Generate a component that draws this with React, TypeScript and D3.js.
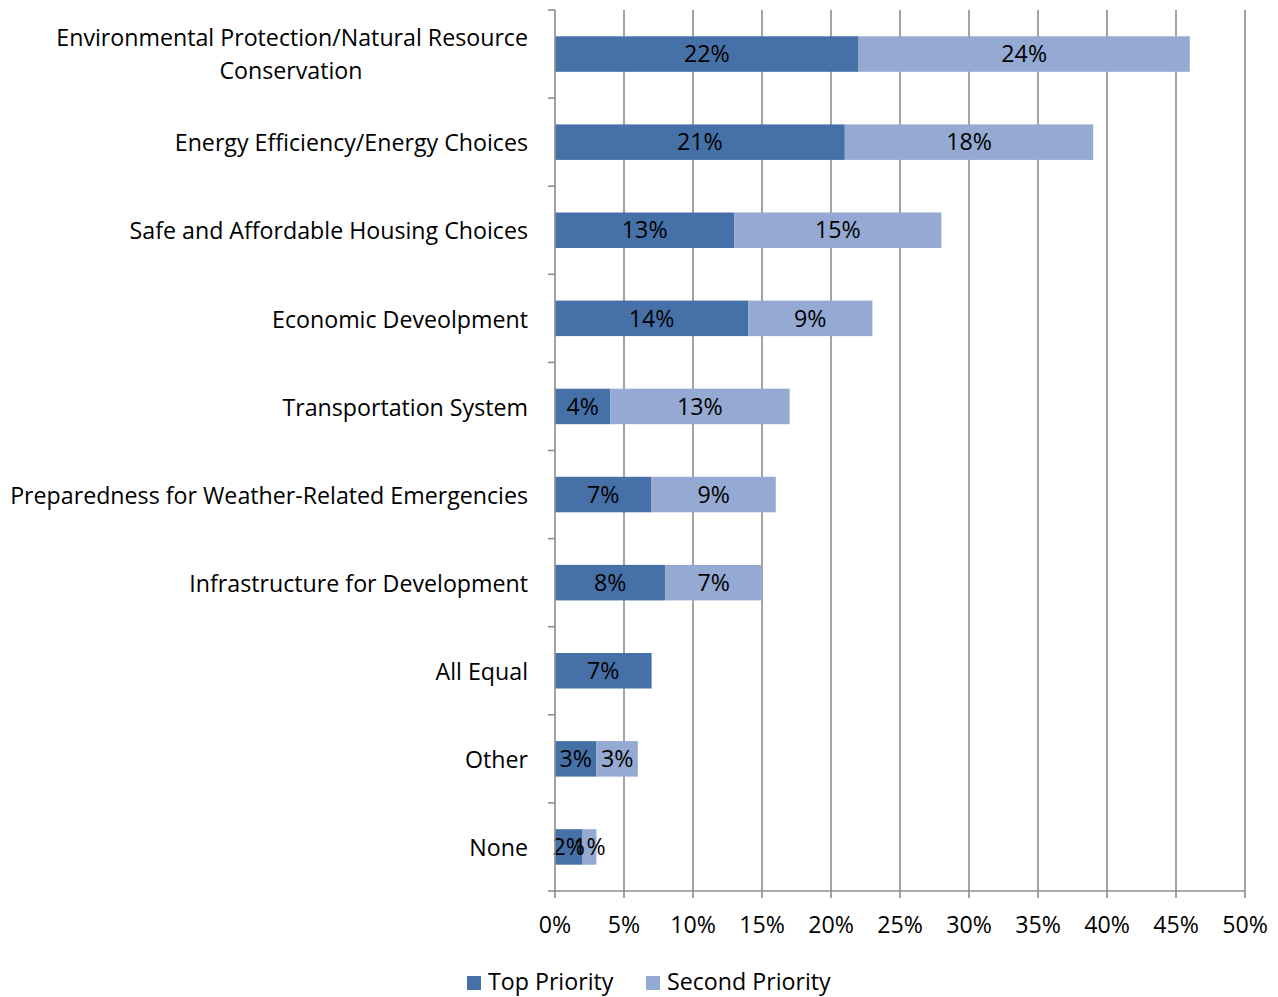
import React from "react";
import * as d3 from "d3";

const categories = [
  ["Environmental Protection/Natural Resource", "Conservation"],
  ["Energy Efficiency/Energy Choices"],
  ["Safe and Affordable Housing Choices"],
  ["Economic Deveolpment"],
  ["Transportation System"],
  ["Preparedness for Weather-Related Emergencies"],
  ["Infrastructure for Development"],
  ["All Equal"],
  ["Other"],
  ["None"],
];
const topPriority = [22, 21, 13, 14, 4, 7, 8, 7, 3, 2];
const secondPriority = [24, 18, 15, 9, 13, 9, 7, 0, 3, 1];
const xTicks = [0, 5, 10, 15, 20, 25, 30, 35, 40, 45, 50];
const seriesNames = ["Top Priority", "Second Priority"];
const colors = ["#4571A8", "#94AAD3"];

const W = 1278, H = 997;
const left = 555, right = 1245, top = 10, bottom = 891;
const font = "'Open Sans', sans-serif";
const fs = 23.2;

export default function App() {
  const x = d3.scaleLinear().domain([0, 50]).range([left, right]);
  const idx = categories.map((_, i) => i);
  const y = d3.scaleBand<number>().domain(idx).range([top, bottom]);
  const bh = y.step();
  const barH = 35.5;
  return (
    <svg width={W} height={H} style={{ position: "absolute", left: 0, top: 0 }} fontFamily={font}>
      <rect width={W} height={H} fill="#fff" />
      {xTicks.slice(1).map((t) => (
        <line key={t} x1={x(t)} x2={x(t)} y1={top} y2={bottom} stroke="#8c8c8c" strokeWidth={1.6} />
      ))}
      {idx.map((i) => {
        const cy = (y(i) as number) + bh / 2;
        const y0 = cy - barH / 2;
        const t = topPriority[i], s = secondPriority[i];
        return (
          <g key={i}>
            <rect x={x(0)} y={y0} width={x(t) - x(0)} height={barH} fill={colors[0]} />
            {s > 0 && <rect x={x(t)} y={y0} width={x(t + s) - x(t)} height={barH} fill={colors[1]} />}
            <text x={(x(0) + x(t)) / 2} y={cy + 2} textAnchor="middle" dominantBaseline="middle" fontSize={fs} fill="#000">{t}%</text>
            {s > 0 && (
              <text x={(x(t) + x(t + s)) / 2} y={cy + 2} textAnchor="middle" dominantBaseline="middle" fontSize={fs} fill="#000">{s}%</text>
            )}
            {categories[i].length === 1 ? (
              <text x={528} y={cy + 3} textAnchor="end" dominantBaseline="middle" fontSize={fs} fill="#000">{categories[i][0]}</text>
            ) : (
              categories[i].map((line, k) => (
                <text key={k} x={k === 0 ? 528 : 291} y={cy - 14 + k * 33} textAnchor={k === 0 ? "end" : "middle"} dominantBaseline="middle" fontSize={fs} fill="#000">{line}</text>
              ))
            )}
          </g>
        );
      })}
      <line x1={left} x2={left} y1={top} y2={bottom} stroke="#8c8c8c" strokeWidth={1.6} />
      {d3.range(categories.length + 1).map((k) => (
        <line key={k} x1={left - 7} x2={left} y1={top + k * bh} y2={top + k * bh} stroke="#8c8c8c" strokeWidth={1.6} />
      ))}
      <line x1={left} x2={right} y1={bottom} y2={bottom} stroke="#8c8c8c" strokeWidth={1.6} />
      {xTicks.map((t) => (
        <g key={t}>
          <line x1={x(t)} x2={x(t)} y1={bottom} y2={bottom + 7} stroke="#8c8c8c" strokeWidth={1.6} />
          <text x={x(t)} y={bottom + 36} textAnchor="middle" dominantBaseline="middle" fontSize={fs} fill="#000">{t}%</text>
        </g>
      ))}
      <rect x={467} y={976} width={14} height={14} fill={colors[0]} />
      <text x={488} y={984} dominantBaseline="middle" fontSize={fs} fill="#000">{seriesNames[0]}</text>
      <rect x={646} y={976} width={14} height={14} fill={colors[1]} />
      <text x={667} y={984} dominantBaseline="middle" fontSize={fs} fill="#000">{seriesNames[1]}</text>
    </svg>
  );
}
